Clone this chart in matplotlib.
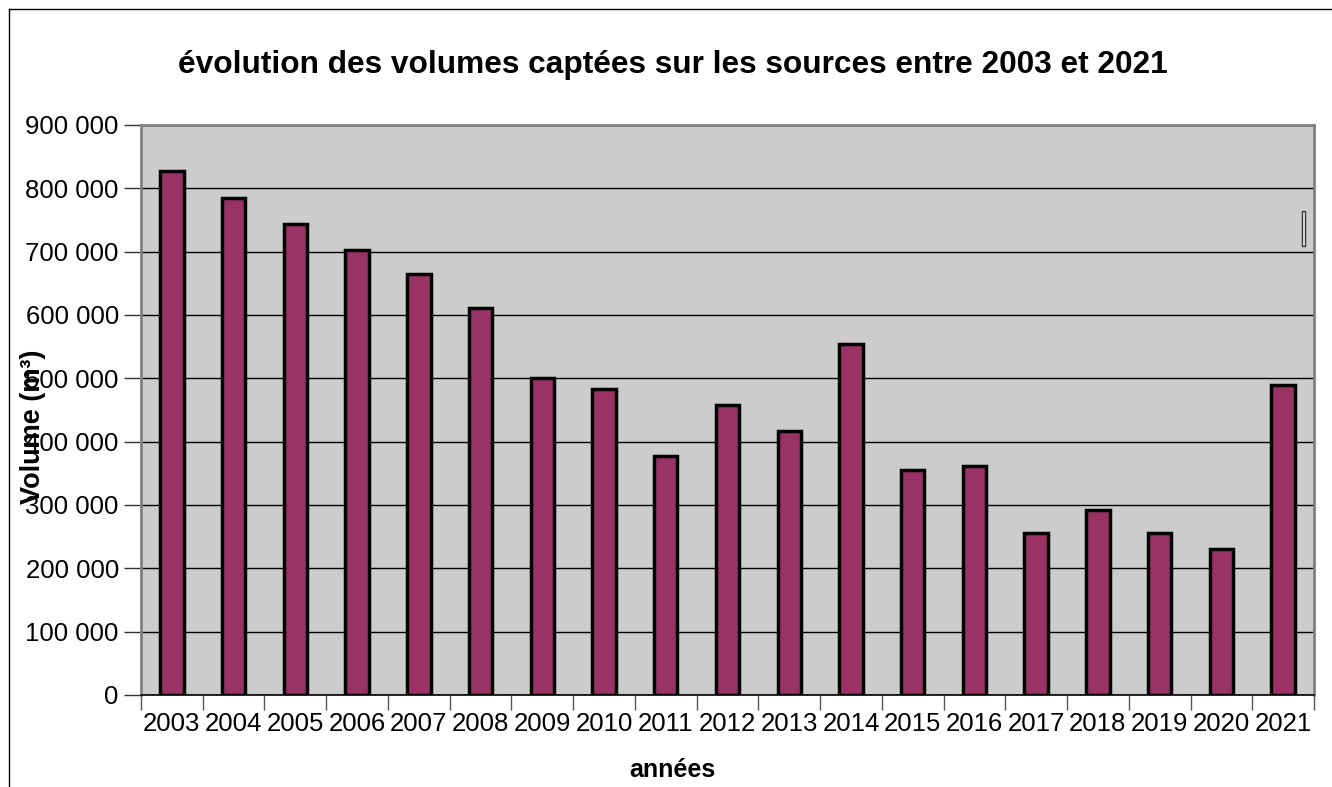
import numpy as np
import matplotlib
matplotlib.use('Agg')
import matplotlib.pyplot as plt
from matplotlib.patches import Rectangle
from matplotlib.lines import Line2D
from matplotlib.ticker import FuncFormatter, FixedLocator

# données
annees = ['2003', '2004', '2005', '2006', '2007', '2008', '2009', '2010', '2011', '2012',
          '2013', '2014', '2015', '2016', '2017', '2018', '2019', '2020', '2021']
volumes = [827000, 785000, 744000, 703000, 665000, 611000, 500000, 483000, 377000, 458000,
           417000, 554000, 355000, 362000, 256000, 292000, 256000, 231000, 489000]

titre = 'évolution des volumes captées sur les sources entre 2003 et 2021'

plt.rcParams['font.family'] = ['Liberation Sans', 'DejaVu Sans']

W, H = 1332, 787
fig = plt.figure(figsize=(W / 100, H / 100), dpi=100)
ax = fig.add_axes([141 / W, 1 - 695 / H, (1314 - 141) / W, (695 - 125) / H])

# fond gris de la zone de tracé
ax.set_facecolor('#cccccc')

x = np.arange(len(annees))
ax.bar(x, volumes, width=0.38, color='#993366', edgecolor='black', linewidth=2.5, zorder=3)

ax.set_xlim(-0.5, len(annees) - 0.5)
ax.set_ylim(0, 900000)

# quadrillage horizontal
ax.set_yticks(np.arange(0, 900001, 100000))
ax.yaxis.set_major_formatter(FuncFormatter(lambda v, p: '{:,}'.format(int(v)).replace(',', ' ')))
ax.grid(axis='y', color='black', linewidth=1, zorder=1)

# graduations de l'axe des x entre les catégories
ax.xaxis.set_major_locator(FixedLocator(np.arange(-0.5, len(annees), 1)))
ax.xaxis.set_major_formatter(FuncFormatter(lambda v, p: ''))
ax.xaxis.set_minor_locator(FixedLocator(x))
ax.set_xticklabels(annees, minor=True)
ax.tick_params(axis='x', which='major', direction='out', length=11, width=1, color='#555555')
ax.tick_params(axis='x', which='minor', length=0, labelsize=18.5, pad=12)
ax.tick_params(axis='y', direction='out', length=12, width=1, color='#333333', labelsize=18.5, pad=4)

for s in ['left', 'right', 'top']:
    ax.spines[s].set_color('#808080')
    ax.spines[s].set_linewidth(2)
ax.spines['bottom'].set_color('black')
ax.spines['bottom'].set_linewidth(1.2)

# petit rectangle (légende masquée)
ax.add_patch(Rectangle((1301.7 / W, 1 - 246 / H), 3.5 / W, 35 / H, transform=fig.transFigure,
                       facecolor='white', edgecolor='#333333', linewidth=1, zorder=5))

fig.text(673 / W, 1 - 73 / H, titre, ha='center', va='baseline', fontsize=22.8, fontweight='bold')
fig.text(672 / W, 1 - 777 / H, 'années', ha='center', va='baseline', fontsize=18, fontweight='bold')
fig.text(33 / W, 1 - 427 / H, 'Volume (m³)', ha='center', va='center', rotation=90,
         fontsize=19.5, fontweight='bold')

# cadre du graphique
fig.add_artist(Line2D([8.5 / W, 8.5 / W], [0, 1 - 9 / H], color='black', linewidth=1))
fig.add_artist(Line2D([8.5 / W, 1], [1 - 9 / H, 1 - 9 / H], color='black', linewidth=1))

plt.savefig('out.png', dpi=100)
plt.close()
